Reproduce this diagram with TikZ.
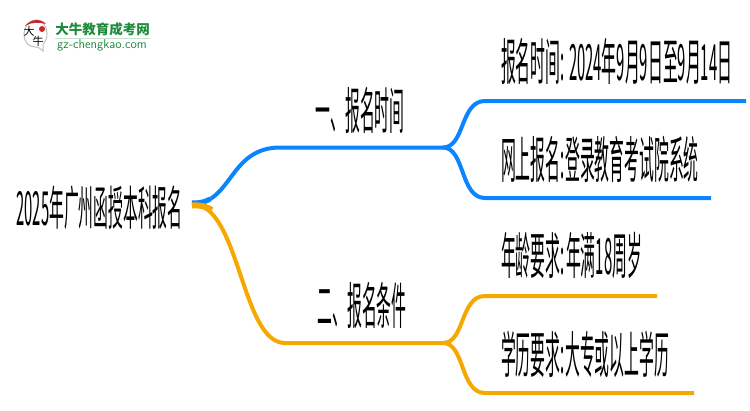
\documentclass[tikz,border=0pt]{standalone}
\usepackage{fontspec}
\newfontfamily\cjk{Noto Sans CJK SC}
\definecolor{bluebranch}{HTML}{0A84FF}
\definecolor{orangebranch}{HTML}{F5A800}
\definecolor{logogreen}{HTML}{1E8A3C}
\definecolor{logored}{HTML}{C8262B}
\tikzset{
  rootlabel/.style={font=\cjk\fontsize{47}{47}\selectfont, xscale=.315, transform shape, inner sep=0pt, anchor=center},
  midlabel/.style={font=\cjk\fontsize{50}{50}\selectfont, xscale=.297, transform shape, inner sep=0pt, anchor=center},
  leaflabel/.style={font=\cjk\fontsize{50}{50}\selectfont, xscale=.297, transform shape, inner sep=0pt, anchor=west},
  bluewire/.style={bluebranch, line width=4pt},
  orangewire/.style={orangebranch, line width=4pt},
}
\begin{document}
\begin{tikzpicture}[x=1pt,y=-1pt]
\useasboundingbox (0,0) rectangle (750,410);

% logo
\draw[black!25, fill=white, line width=1pt] (43,51) -- (38,47) .. controls (28,48) and (24,41) .. (24,35) .. controls (24,26) and (30,20) .. (36,20) .. controls (43,20) and (47,27) .. (47,34) .. controls (47,39) and (45,42) .. (43,44) -- cycle;
\fill[logored] (25,26) .. controls (30,19) and (41,18) .. (46,24) .. controls (40,22) and (31,22) .. (25,26) -- cycle;
\fill[logored] (42,29) circle (3);
\node[font=\cjk\fontsize{11}{11}\selectfont] (logoa) at (29,31) {大};
\node[font=\cjk\fontsize{11}{11}\selectfont] (logob) at (38,41) {牛};
\node[font=\cjk\bfseries\fontsize{13.5}{13.5}\selectfont, text=logogreen, inner sep=0pt] (logotitle) at (102.5,29.5) {大牛教育成考网};
\fill[logogreen!25] (55,38) rectangle (150,39);
\node[font=\sffamily\fontsize{12.8}{12.8}\selectfont, text=logogreen, inner sep=0pt] (logourl) at (102,45) {gz-chengkao.com};

% labels
\node[rootlabel] (root) at (99.5,208) {2025年广州函授本科报名};
\node[midlabel] (time) at (360,110) {一、报名时间};
\node[midlabel] (cond) at (362,305) {二、报名条件};
\node[leaflabel] (date) at (501,61) {报名时间: 2024年9月9日至9月14日};
\node[leaflabel] (web) at (501,159) {网上报名:\hspace{2pt}登录教育考试院系统};
\node[leaflabel] (age) at (501,256) {年龄要求:\hspace{5pt}年满18周岁};
\node[leaflabel] (edu) at (501,354) {学历要求:\hspace{2pt}大专或以上学历};

\coordinate (o) at (192,204);
\coordinate (ta) at (280,147.5);
\coordinate (tb) at (443,147.5);
\coordinate (tc) at (485,101);
\coordinate (td) at (746,101);
\coordinate (te) at (485,198);
\coordinate (tf) at (711,198);
\coordinate (ca) at (285,343);
\coordinate (cb) at (443,343);
\coordinate (cc) at (485,296);
\coordinate (cd) at (657,296);
\coordinate (ce) at (485,393);
\coordinate (cf) at (694,393);

% branches
\draw[bluewire] (o) .. controls (232,204) and (229,147.5) .. (ta) -- (tb);
\draw[bluewire] (tb) .. controls (465,147.5) and (460,101) .. (tc) -- (td);
\draw[bluewire] (tb) .. controls (465,147.5) and (460,198) .. (te) -- (tf);
\draw[orangewire] (o) .. controls (240,204) and (241,343) .. (ca) -- (cb);
\draw[orangewire] (cb) .. controls (465,343) and (460,296) .. (cc) -- (cd);
\draw[orangewire] (cb) .. controls (465,343) and (460,393) .. (ce) -- (cf);

% thicker start at the root
\draw[bluebranch, line width=5pt] (o) ++(0,-1) .. controls (200,203) and (205,202) .. (210,199);
\draw[orangebranch, line width=6pt] (o) ++(0,1.5) .. controls (200,205) and (205,206) .. (212,210);

\end{tikzpicture}
\end{document}
